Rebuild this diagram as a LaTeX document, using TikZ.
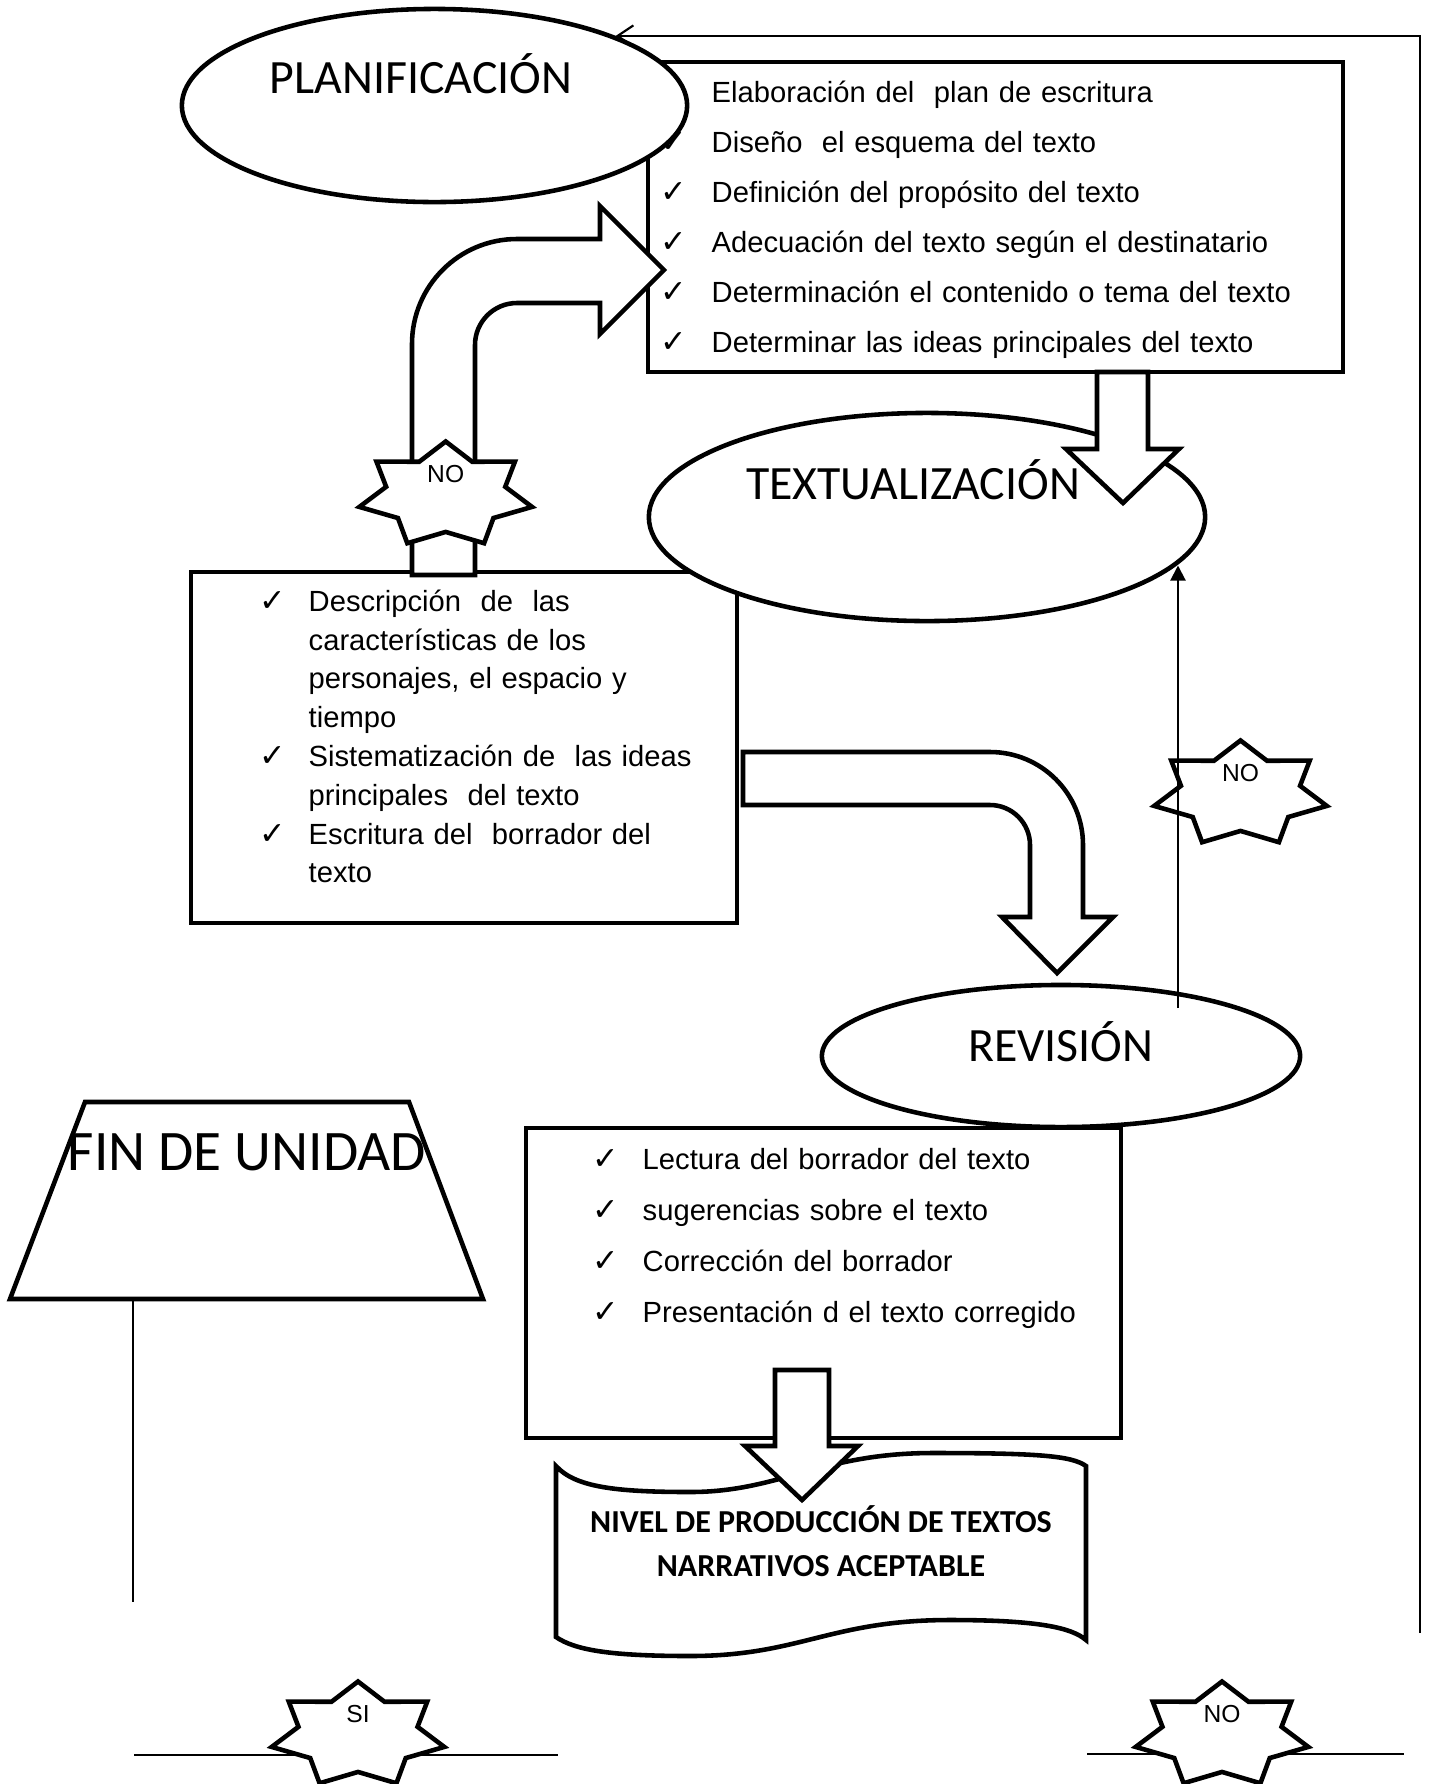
\documentclass[tikz,border=0pt]{standalone}
\usepackage{fontspec}
\setmainfont{Liberation Sans}
\newfontfamily\calfont{Carlito}
\newfontfamily\symfont{DejaVu Sans}
\usepackage{tikz}
\usetikzlibrary{positioning,shapes.geometric,arrows.meta}

\tikzset{
  link/.style={line width=0.6pt},
  listbox/.style={draw, line width=1.3pt, fill=white, inner sep=0pt},
  stage/.style={ellipse, draw, line width=1.3pt, fill=white, inner sep=0pt},
  stagetext/.style={font=\calfont\fontsize{13.6}{16}\selectfont, inner sep=0pt},
  item/.style={anchor=base west, align=left, text width=4.6cm, inner sep=0pt,
    font=\fontsize{8.3}{11.04}\selectfont},
  tick/.style={anchor=base, inner sep=0pt, font=\symfont\fontsize{9}{10}\selectfont},
  blockarrow/.style={draw, fill=white, line width=1.3pt, line join=miter},
  decstar/.style={star, star points=7, star point ratio=1.45, draw, fill=white,
    line width=1.3pt, minimum size=1.07cm, inner sep=0pt},
  declabel/.style={inner sep=0pt, font=\fontsize{7}{8}\selectfont},
}

% star with a label above its centre
\newcommand{\decision}[4]{%
  \begin{scope}[shift={(#2,#3)}, xscale=1.654]
    \node[decstar, transform shape] (#1) at (0,0) {};
  \end{scope}
  \node[declabel] (#1-t) at ([yshift=0.21cm]#1.center) {#4};
}

\begin{document}
\begin{tikzpicture}[x=0.01cm, y=-0.01cm]
\useasboundingbox (0,0) rectangle (1429,1784);

% planificacion
\node[listbox, minimum width=6.95cm, minimum height=3.1cm] (planbox) at (995.5,217) {};
\foreach \txt [count=\i] in {Elaboración del\ \ plan de escritura, Diseño\ \ el esquema del texto,
    Definición del propósito del texto, Adecuación del texto según el destinatario,
    Determinación el contenido o tema del texto, Determinar las ideas principales del texto}
{
  \node[item, text width=6.2cm] (plan-\i) at (711,{52.5+50*\i}) {\txt};
  \node[tick] (plan-ck-\i) at (674,{52.5+50*\i}) {✓};
}
\node[stage, minimum width=5.05cm, minimum height=1.93cm] (plan) at (434.5,105.5) {};
\node[stagetext] (plan-t) at (421,74) {PLANIFICACIÓN};

\coordinate (fbstart) at (1420,1633);
\draw[link, -{Straight Barb[length=4.5pt,width=6pt]}] (fbstart) |- (plan.21);

% textualizacion
\node[listbox, minimum width=5.46cm, minimum height=3.51cm] (texbox) at (464,747.5) {};
\node[item] (tb-1) at (308,611.2) {Descripción\ \ de\ \ las\\características de los\\personajes, el espacio y\\tiempo};
\node[item] (tb-2) at (308,766.4) {Sistematización de\ \ las ideas\\principales\ \ del texto};
\node[item] (tb-3) at (308,844) {Escritura del\ \ borrador del\\texto};
\foreach \y [count=\i] in {611.2,766.4,844}
  \node[tick] (tb-ck-\i) at (273,\y) {✓};

\node[stage, minimum width=5.56cm, minimum height=2.08cm] (tex) at (927,517) {};
\node[stagetext] (tex-t) at (913,480) {TEXTUALIZACIÓN};
\draw[blockarrow] (1097,372) -- (1097,449) -- (1066,449) -- (1123,503) -- (1179,449)
  -- (1148,449) -- (1148,372) -- cycle;

% back to planificacion
\draw[blockarrow] (412,575) -- (412,344) .. controls (412,286) and (459,239) .. (517,239)
  -- (600,239) -- (600,206) -- (664,270) -- (600,334) -- (600,303) -- (517,303)
  .. controls (493.8,303) and (475,321.8) .. (475,345) -- (475,575) -- cycle;
\decision{no1}{445.7}{495}{NO}

% on to revision
\draw[blockarrow] (743,752) -- (990,752) .. controls (1041.4,752) and (1083,793.6) .. (1083,845)
  -- (1083,917) -- (1113,917) -- (1057,973) -- (1002,917) -- (1030,917) -- (1030,845)
  .. controls (1030,822.9) and (1012.1,805) .. (990,805) -- (743,805) -- cycle;

% revision
\decision{no2}{1240.5}{794}{NO}
\node[stage, minimum width=4.78cm, minimum height=1.42cm] (rev) at (1061,1056) {};
\node[stagetext] (rev-t) at (1061,1042) {REVISIÓN};
\coordinate (revno) at (1178,1008);
\draw[link, -{Triangle[length=4.3pt,width=4.3pt]}] (revno) -- (revno |- tex.-11);

\node[listbox, minimum width=5.95cm, minimum height=3.1cm] (revbox) at (823.5,1283) {};
\foreach \txt [count=\i] in {Lectura del borrador del texto, sugerencias sobre el texto,
    Corrección del borrador, Presentación d el texto corregido}
{
  \node[item, text width=5cm] (rev-\i) at (642,{1118.6+50.9*\i}) {\txt};
  \node[tick] (rev-ck-\i) at (606,{1118.6+50.9*\i}) {✓};
}

% nivel aceptable
\draw[line width=1.3pt, fill=white] (556,1466) .. controls (575,1487) and (615,1492) .. (690,1492)
  .. controls (780,1492) and (820,1453) .. (933,1453) .. controls (1040,1453) and (1072,1456) .. (1086,1466)
  -- (1086,1640) .. controls (1072,1628) and (1040,1620) .. (950,1620)
  .. controls (830,1620) and (800,1656) .. (690,1656) .. controls (610,1656) and (575,1650) .. (556,1637)
  -- cycle;
\node[align=center, inner sep=0pt, font=\calfont\bfseries\fontsize{9.1}{12.6}\selectfont] (nivel)
  at (821,1541) {NIVEL DE PRODUCCIÓN DE TEXTOS\\NARRATIVOS ACEPTABLE};
\draw[blockarrow] (775,1370) -- (775,1446) -- (745,1446) -- (802,1500) -- (858,1446)
  -- (829,1446) -- (829,1370) -- cycle;

% fin de unidad
\draw[line width=1.3pt, fill=white] (85,1102) -- (409,1102) -- (483,1299) -- (10,1299) -- cycle;
\node[inner sep=0pt, font=\calfont\fontsize{16.3}{19}\selectfont] (fin) at (247,1152) {FIN DE UNIDAD};
\coordinate (finend) at (133,1602);
\draw[link] (133,1299) -- (finend);

% si / no
\coordinate (si-a) at (134,1755);
\coordinate (si-b) at (558,1755);
\coordinate (no-a) at (1087,1754);
\coordinate (no-b) at (1404,1754);
\draw[link] (si-a) -- (si-b);
\draw[link] (no-a) -- (no-b);
\decision{si}{358}{1735}{SI}
\decision{no3}{1222}{1735}{NO}

\end{tikzpicture}
\end{document}
